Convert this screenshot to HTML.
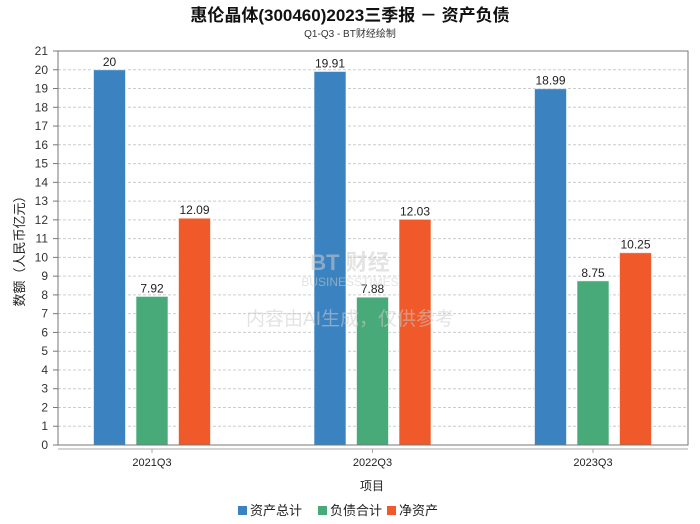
<!DOCTYPE html>
<html><head><meta charset="utf-8"><style>
body{margin:0;background:#fff;font-family:"Liberation Sans","Noto Sans CJK SC",sans-serif}
</style></head><body>
<svg width="700" height="524" viewBox="0 0 700 524" style="display:block">
<text x="350" y="21" text-anchor="middle" font-size="17" font-weight="bold" fill="#111">惠伦晶体(300460)2023三季报 － 资产负债</text>
<text x="350" y="37" text-anchor="middle" font-size="10" fill="#333">Q1-Q3 - BT财经绘制</text>
<g id="grid"></g>
<g id="bars"></g>
<text x="350" y="270" text-anchor="middle" font-size="22" fill="#ccc" fill-opacity="0.55" font-weight="bold">BT 财经</text>
<text x="350" y="286" text-anchor="middle" font-size="12" fill="#ccc" fill-opacity="0.55">BUSINESSTIMES</text>
<text x="350" y="325" text-anchor="middle" font-size="19" fill="#ccc" fill-opacity="0.55">内容由AI生成，仅供参考</text>
<rect x="58" y="51" width="630" height="394" fill="none" stroke="#777" stroke-width="1"/>
<line x1="58" y1="449" x2="688" y2="449" stroke="#aaa"/>
<text transform="translate(24,248) rotate(-90)" text-anchor="middle" font-size="13" fill="#222">数额（人民币亿元）</text>
<text x="372" y="490" text-anchor="middle" font-size="12" fill="#222">项目</text>
<g id="legend"></g>
</svg>
<script>
const categories=["2021Q3","2022Q3","2023Q3"];
const seriesNames=["资产总计","负债合计","净资产"];
const totalAssets=[20,19.91,18.99];
const totalLiabilities=[7.92,7.88,8.75];
const netAssets=[12.09,12.03,10.25];
const yTicks=[0,1,2,3,4,5,6,7,8,9,10,11,12,13,14,15,16,17,18,19,20,21];
const colors=["#3a82c0","#47aa78","#f05a2a"];
const NS="http://www.w3.org/2000/svg";
const y0=445,y1=51,yMax=21;
function yS(v){return y0-(v/yMax)*(y0-y1);}
function xC(i){return 152+i*220.5;}
function mk(t,a,p){const e=document.createElementNS(NS,t);for(const k in a)e.setAttribute(k,a[k]);p.appendChild(e);return e;}
const g=document.getElementById('grid');
yTicks.forEach(v=>{
  const y=yS(v);
  if(v>0&&v<21){const l=mk('line',{x1:58,x2:688,y1:y,y2:y,stroke:'#ccc','stroke-dasharray':'3,2'},g);
  
  }
  const tk=mk('line',{x1:53,x2:58,y1:y,y2:y,stroke:'#777'},g);
  
  
  const t=mk('text',{x:48,y:y+4,'text-anchor':'end','font-size':12,fill:'#333'},g);
  t.textContent=v;
  
  
});
const b=document.getElementById('bars');
const series=[totalAssets,totalLiabilities,netAssets];
categories.forEach((c,i)=>{
  const cx=xC(i);
  const tk=mk('line',{x1:cx,x2:cx,y1:449,y2:453,stroke:'#aaa'},b);
  
  
  const t=mk('text',{x:cx,y:466,'text-anchor':'middle','font-size':11,fill:'#222'},b);
  t.textContent=c;
  
  
  series.forEach((s,j)=>{
    const x=cx+(j-1)*42.5-16,y=yS(s[i]);
    const r=mk('rect',{x:x,y:y,width:32,height:y0-y,fill:colors[j],stroke:'#fff','stroke-opacity':0.6},b);
    
    
    const l=mk('text',{x:x+16,y:y-4,'text-anchor':'middle','font-size':12,fill:'#222'},b);
    l.textContent=s[i];
    
    
  });
});
const lg=document.getElementById('legend');
const lx=[238,318,387];
seriesNames.forEach((n,j)=>{
  const r=mk('rect',{x:lx[j],y:506,width:9,height:9,fill:colors[j]},lg);
  
  
  const t=mk('text',{x:lx[j]+12,y:515,'font-size':13,fill:'#222'},lg);
  t.textContent=n;
  
  
});
</script>
</body></html>
